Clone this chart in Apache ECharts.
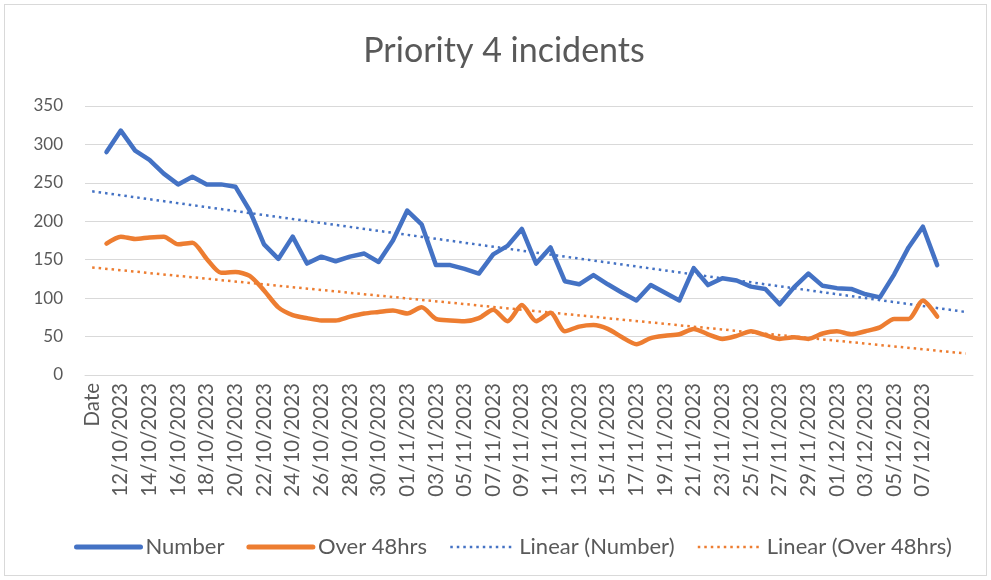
<!DOCTYPE html>
<html>
<head>
<meta charset="utf-8">
<title>Priority 4 incidents</title>
<script src="https://cdn.jsdelivr.net/npm/echarts@6/dist/echarts.min.js"></script>
<style>
  html, body { margin: 0; padding: 0; background: #fff; }
  .LineChart {
    position: absolute;
    left: 4px;
    top: 4px;
    width: 981px;
    height: 570px;
    border: 1px solid #d9d9d9;
  }
</style>
</head>
<body>
<div class="LineChart" id="LineChart"></div>
<script>
// dates (first cell is the "Date" header, last two are blank)
var dates = [
  '11/10/2023', '12/10/2023', '13/10/2023', '14/10/2023', '15/10/2023', '16/10/2023',
  '17/10/2023', '18/10/2023', '19/10/2023', '20/10/2023', '21/10/2023', '22/10/2023',
  '23/10/2023', '24/10/2023', '25/10/2023', '26/10/2023', '27/10/2023', '28/10/2023',
  '29/10/2023', '30/10/2023', '31/10/2023', '01/11/2023', '02/11/2023', '03/11/2023',
  '04/11/2023', '05/11/2023', '06/11/2023', '07/11/2023', '08/11/2023', '09/11/2023',
  '10/11/2023', '11/11/2023', '12/11/2023', '13/11/2023', '14/11/2023', '15/11/2023',
  '16/11/2023', '17/11/2023', '18/11/2023', '19/11/2023', '20/11/2023', '21/11/2023',
  '22/11/2023', '23/11/2023', '24/11/2023', '25/11/2023', '26/11/2023', '27/11/2023',
  '28/11/2023', '29/11/2023', '30/11/2023', '01/12/2023', '02/12/2023', '03/12/2023',
  '04/12/2023', '05/12/2023', '06/12/2023', '07/12/2023', '08/12/2023'
];

// Number
var numberData = [
  290, 318, 292, 280, 262, 248, 258, 248, 248, 245,
  214, 170, 151, 180, 145, 154, 148, 154, 158, 147,
  175, 214, 196, 143, 143, 138, 132, 157, 168, 190,
  145, 166, 122, 118, 130, 118, 107, 97, 117, 107,
  97, 139, 117, 126, 123, 115, 112, 92, 114, 132,
  116, 113, 112, 105, 101, 131, 166, 193, 143
];

// Over 48hrs
var overData = [
  171, 180, 177, 179, 180, 170, 172, 151, 133, 134,
  129, 110, 88, 78, 74, 71, 71, 76, 80, 82,
  84, 80, 88, 73, 71, 70, 74, 85, 70, 91,
  70, 81, 57, 63, 65, 60, 49, 40, 48, 51,
  53, 60, 53, 47, 51, 57, 52, 47, 49, 47,
  54, 57, 53, 57, 62, 73, 73, 97, 76
];

// trendline ends (first and last category)
var trendNumber = [239, 82];
var trendOver = [140, 28];

var yTicks = { min: 0, max: 350, step: 50 };

var categories = ['Date'].concat(dates, ['', '']);

function padded (arr) {
  return [null].concat(arr, [null, null]);
}

function trend (ends) {
  return [[0, ends[0]], [categories.length - 1, ends[1]]];
}

var myChart = echarts.init(document.getElementById('LineChart'));

var textColor = '#595959';
var option;
option = {
  animation: false,
  title: {
    text: 'Priority 4 incidents',
    left: 494,
    top: 24,
    textAlign: 'center',
    textStyle: {
      color: textColor,
      fontFamily: 'Lato',
      fontWeight: 'normal',
      fontSize: 34
    }
  },
  legend: {
    left: 64,
    top: 526,
    itemWidth: 64,
    itemHeight: 5,
    itemGap: 22,
    itemStyle: { opacity: 0 },
    textStyle: {
      color: textColor,
      fontFamily: 'Lato',
      fontSize: 22
    },
    data: [
      { name: 'Number', lineStyle: { width: 5 } },
      { name: 'Over 48hrs', lineStyle: { width: 5 } },
      { name: 'Linear (Number)', lineStyle: { width: 2.5 } },
      { name: 'Linear (Over 48hrs)', lineStyle: { width: 2.5 } }
    ]
  },
  grid: {
    left: 80,
    right: 13,
    top: 101,
    bottom: 200,
    containLabel: false
  },
  xAxis: {
    type: 'category',
    boundaryGap: true,
    data: categories,
    axisLine: {
      show: true,
      lineStyle: { color: '#d9d9d9', width: 1 }
    },
    axisTick: { show: false },
    axisLabel: {
      interval: 1,
      rotate: 90,
      margin: 8,
      color: textColor,
      fontFamily: 'Lato',
      fontSize: 20.5
    },
    splitLine: { show: false }
  },
  yAxis: {
    type: 'value',
    min: yTicks.min,
    max: yTicks.max,
    interval: yTicks.step,
    axisLine: { show: false },
    axisTick: { show: false },
    axisLabel: {
      margin: 22,
      color: textColor,
      fontFamily: 'Lato',
      fontSize: 17
    },
    splitLine: {
      lineStyle: { color: '#d9d9d9', width: 1 }
    }
  },
  series: [
    {
      name: 'Number',
      type: 'line',
      data: padded(numberData),
      symbol: 'none',
      lineStyle: { color: '#4472C4', width: 4.5, join: 'round', cap: 'round' },
      itemStyle: { color: '#4472C4' },
      z: 4
    },
    {
      name: 'Over 48hrs',
      type: 'line',
      data: padded(overData),
      symbol: 'none',
      smooth: 0.25,
      lineStyle: { color: '#ED7D31', width: 4.5, join: 'round', cap: 'round' },
      itemStyle: { color: '#ED7D31' },
      z: 4
    },
    {
      name: 'Linear (Number)',
      type: 'line',
      data: trend(trendNumber),
      symbol: 'none',
      lineStyle: { color: '#4472C4', width: 2.5, type: [2.5, 4] },
      itemStyle: { color: '#4472C4' },
      z: 3
    },
    {
      name: 'Linear (Over 48hrs)',
      type: 'line',
      data: trend(trendOver),
      symbol: 'none',
      lineStyle: { color: '#ED7D31', width: 2.5, type: [2.5, 4] },
      itemStyle: { color: '#ED7D31' },
      z: 3
    }
  ]
};

option && myChart.setOption(option);
</script>
</body>
</html>
